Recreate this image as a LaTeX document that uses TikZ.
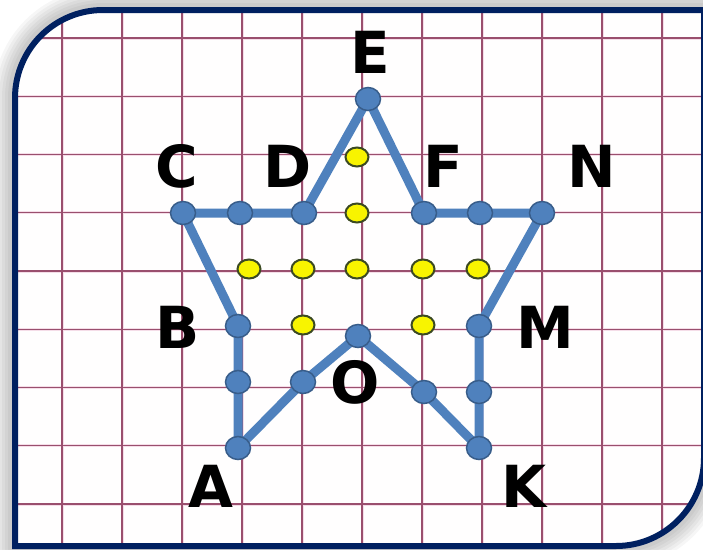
\documentclass[tikz,border=0pt]{standalone}
\usepackage{fontspec}
\setmainfont{DejaVu Sans}
\usetikzlibrary{shapes.geometric}
\definecolor{framecol}{HTML}{002060}
\definecolor{gridcol}{HTML}{9A4F6E}
\definecolor{gridhalo}{HTML}{F5DDE8}
\definecolor{starblue}{HTML}{4F81BD}
\definecolor{dotedge}{HTML}{385D8A}
\definecolor{yelfill}{HTML}{F8F400}
\definecolor{yeledge}{HTML}{3C4A22}
\tikzset{
  starline/.style={line width=9pt, draw=starblue, line join=round, line cap=round},
  bdot/.style={ellipse, draw=dotedge, fill=starblue, line width=1.5pt, minimum width=25pt, minimum height=23pt, inner sep=0pt},
  ydot/.style={ellipse, draw=yeledge, fill=yelfill, line width=2pt, minimum width=23pt, minimum height=19pt, inner sep=0pt},
  lbl/.style={anchor=base, inner sep=0pt, font=\bfseries\fontsize{58}{58}\selectfont},
}
\def\framepath{(15,546) -- (15,300) [rounded corners=88pt] -- (15,10) -- (300,10) [sharp corners] -- (704,10) -- (704,300) [rounded corners=88pt] -- (704,546) -- (300,546) [sharp corners] -- (15,546) -- cycle}
\begin{document}
\begin{tikzpicture}[x=1pt, y=-1pt]
\useasboundingbox (0,0) rectangle (703,549);
\fill[white] (0,0) rectangle (703,549);
% glow shadow
\foreach \w in {44,38,32,26,20,14} {
  \draw[line width=\w pt, black, opacity=0.035] \framepath;
}
% interior
\fill[white!99!pink] \framepath;
\begin{scope}
  \clip \framepath;
  \foreach \x in {62,122,...,662} {
    \draw[gridhalo, line width=3pt] (\x,0) -- (\x,549);
  }
  \foreach \k in {0,...,8} {
    \draw[gridhalo, line width=3pt] (0,38+58.25*\k) -- (703,38+58.25*\k);
  }
  \foreach \x in {62,122,...,662} {
    \draw[gridcol, line width=1.1pt] (\x,0) -- (\x,549);
  }
  \foreach \k in {0,...,8} {
    \draw[gridcol, line width=1.1pt] (0,38+58.25*\k) -- (703,38+58.25*\k);
  }
\end{scope}
\draw[framecol, line width=6pt] \framepath;
% star vertices
\coordinate (pE) at (368,99);
\coordinate (pF) at (424,213);
\coordinate (pF2) at (480,213);
\coordinate (pN) at (542,213);
\coordinate (pM) at (479,326);
\coordinate (pM2) at (479,392);
\coordinate (pK) at (479,448);
\coordinate (pK2) at (424,392);
\coordinate (pO) at (358,336);
\coordinate (pO2) at (303,382);
\coordinate (pA) at (238,448);
\coordinate (pA2) at (238,382);
\coordinate (pB) at (238,326);
\coordinate (pC) at (183,213);
\coordinate (pC2) at (240,213);
\coordinate (pD) at (304,213);
\draw[starline] (pE) -- (pF) -- (pF2) -- (pN) -- (pM) -- (pM2) -- (pK) -- (pK2) -- (pO) -- (pO2) -- (pA) -- (pA2) -- (pB) -- (pC) -- (pC2) -- (pD) -- cycle;
\foreach \p in {E,F,F2,N,M,M2,K,K2,O,O2,A,A2,B,C,C2,D} {
  \node[bdot] (d\p) at (p\p) {};
}
% yellow dots
\node[ydot] (y1) at (357,157) {};
\node[ydot] (y2) at (357,213) {};
\node[ydot] (y3) at (249,269) {};
\node[ydot] (y4) at (303,269) {};
\node[ydot] (y5) at (357,269) {};
\node[ydot] (y6) at (423,269) {};
\node[ydot] (y7) at (478,269) {};
\node[ydot] (y8) at (303,325) {};
\node[ydot] (y9) at (423,325) {};
% labels
\node[lbl] (lE) at (370,73) {E};
\node[lbl] (lC) at (177,187) {C};
\node[lbl] (lD) at (288,187) {D};
\node[lbl] (lF) at (443,187) {F};
\node[lbl] (lN) at (592,187) {N};
\node[lbl] (lB) at (178,348) {B};
\node[lbl] (lM) at (545,348) {M};
\node[lbl] (lO) at (355,403) {O};
\node[lbl] (lA) at (211,507) {A};
\node[lbl] (lK) at (524,507) {K};
\end{tikzpicture}
\end{document}
